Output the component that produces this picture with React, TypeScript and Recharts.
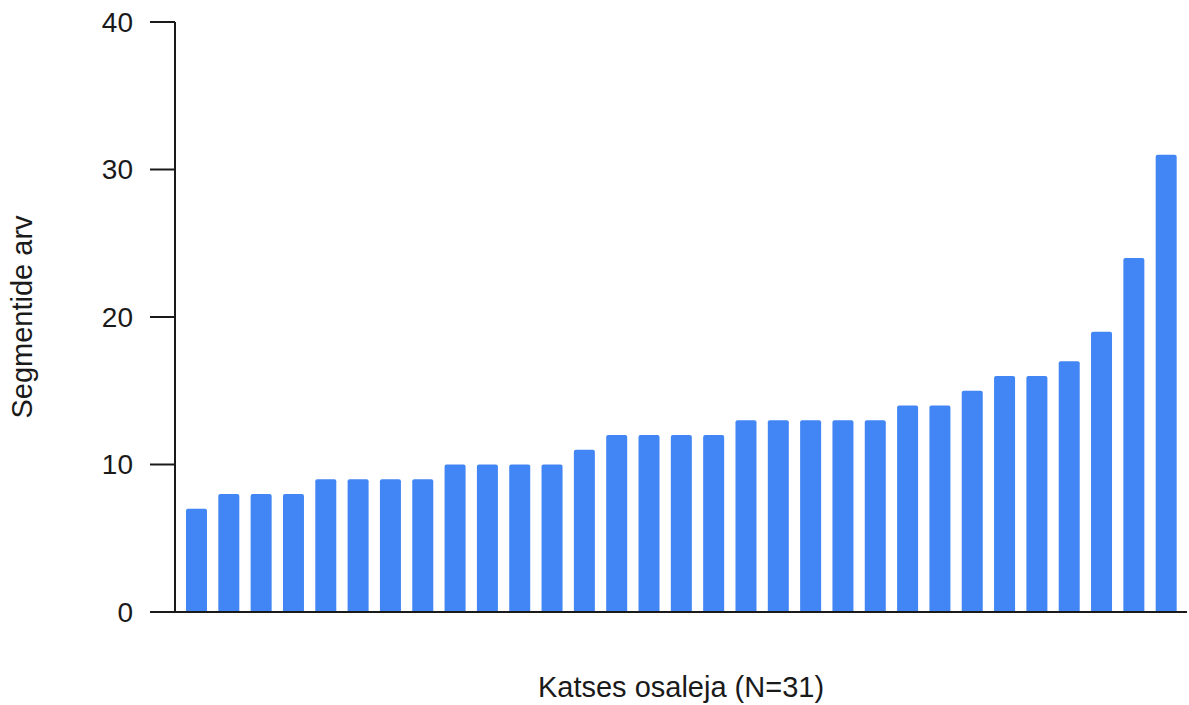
import { Bar, BarChart, Label, XAxis, YAxis } from 'recharts'

const participants = Array.from({ length: 31 }, (_, i) => `P${i + 1}`)
const segments = [7, 8, 8, 8, 9, 9, 9, 9, 10, 10, 10, 10, 11, 12, 12, 12, 12, 13, 13, 13, 13, 13, 14, 14, 15, 16, 16, 17, 19, 24, 31]
const yTicks = [0, 10, 20, 30, 40]

const data = participants.map((name, i) => ({ name, value: segments[i] }))

const font = '"Liberation Sans", Arial, sans-serif'
const ink = '#1a1a1a'

export default function App() {
  return (
    <div style={{ position: 'absolute', left: 0, top: 0, background: '#fff' }}>
      <BarChart width={1189} height={705} data={data} margin={{ top: 22, right: 2, bottom: 0, left: 0 }}>
        <XAxis
          dataKey="name"
          height={93}
          tick={false}
          tickLine={false}
          axisLine={{ stroke: ink, strokeWidth: 2 }}
          padding={{ left: 5, right: 5 }}
        >
          <Label
            value="Katses osaleja (N=31)"
            position="insideBottom"
            offset={8}
            style={{ fontFamily: font, fontSize: 29, fill: ink }}
          />
        </XAxis>
        <YAxis
          width={175}
          domain={[0, 40]}
          ticks={yTicks}
          interval={0}
          tickSize={25}
          tickMargin={17}
          tickLine={{ stroke: ink, strokeWidth: 2 }}
          axisLine={{ stroke: ink, strokeWidth: 2 }}
          tick={{ fontFamily: font, fontSize: 28, fill: ink }}
        >
          <Label
            content={({ viewBox }: any) => {
              const cy = viewBox.y + viewBox.height / 2
              return (
                <text
                  x={32}
                  y={cy}
                  transform={`rotate(-90 32 ${cy})`}
                  textAnchor="middle"
                  style={{ fontFamily: font, fontSize: 29, fill: ink }}
                >
                  Segmentide arv
                </text>
              )
            }}
          />
        </YAxis>
        <Bar dataKey="value" fill="#4285F4" barSize={21} radius={[2, 2, 0, 0]} isAnimationActive={false} />
      </BarChart>
    </div>
  )
}
